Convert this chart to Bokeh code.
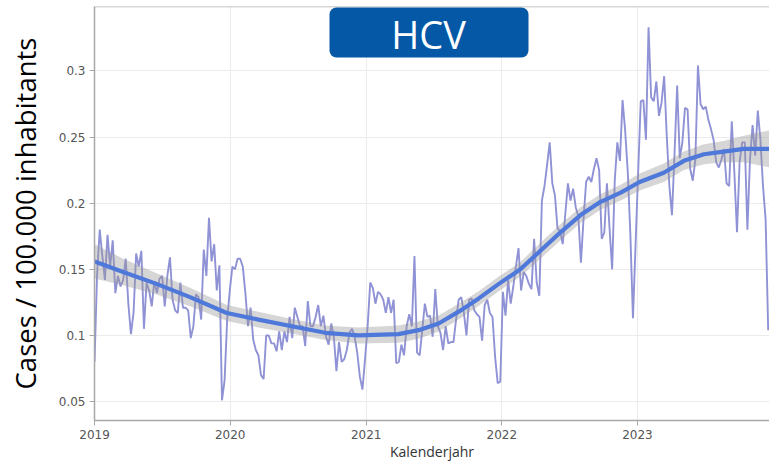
import pandas as pd
from bokeh.plotting import figure
from bokeh.models import (FixedTicker, CustomJSTickFormatter, Range1d, BoxAnnotation,
                          Label, Span)
from bokeh.embed import file_html
from bokeh.resources import INLINE

# ---------------- data ----------------
first_week = "2019-01-01"
cases = [
    # 2019
    0.080, 0.147, 0.180, 0.160, 0.142, 0.176, 0.152, 0.172, 0.132, 0.145,
    0.137, 0.142, 0.158, 0.124, 0.101, 0.117, 0.162, 0.152, 0.164, 0.105,
    0.140, 0.134, 0.122, 0.141, 0.132, 0.143, 0.145, 0.122, 0.145, 0.159,
    0.127, 0.119, 0.117, 0.140, 0.121, 0.121, 0.119, 0.098, 0.107, 0.131,
    0.129, 0.112, 0.165, 0.145, 0.189, 0.156, 0.169, 0.134, 0.153, 0.051,
    # 2020
    0.066, 0.112, 0.134, 0.152, 0.150, 0.158, 0.158, 0.152, 0.132, 0.107,
    0.121, 0.097, 0.089, 0.085, 0.070, 0.067, 0.100, 0.100, 0.094, 0.094,
    0.088, 0.103, 0.089, 0.103, 0.095, 0.114, 0.098, 0.121, 0.114, 0.107,
    0.107, 0.092, 0.126, 0.107, 0.107, 0.114, 0.123, 0.107, 0.115, 0.099,
    0.093, 0.109, 0.099, 0.073, 0.095, 0.080, 0.082, 0.089, 0.102, 0.105,
    0.099, 0.087, 0.069, 0.059,
    # 2021
    0.082, 0.107, 0.140, 0.136, 0.124, 0.133, 0.131, 0.127, 0.117, 0.129,
    0.117, 0.127, 0.079, 0.080, 0.093, 0.085, 0.107, 0.116, 0.107, 0.160,
    0.087, 0.085, 0.104, 0.124, 0.114, 0.115, 0.099, 0.135, 0.107, 0.102,
    0.089, 0.107, 0.094, 0.095, 0.095, 0.112, 0.127, 0.129, 0.117, 0.100,
    0.127, 0.128, 0.119, 0.116, 0.114, 0.096, 0.123, 0.127, 0.117, 0.114,
    0.084, 0.064, 0.065,
    # 2022
    0.133, 0.115, 0.142, 0.124, 0.137, 0.152, 0.166, 0.134, 0.148, 0.145,
    0.139, 0.135, 0.173, 0.140, 0.130, 0.202, 0.213, 0.229, 0.246, 0.215,
    0.206, 0.181, 0.179, 0.169, 0.192, 0.215, 0.202, 0.211, 0.197, 0.190,
    0.155, 0.188, 0.216, 0.220, 0.216, 0.226, 0.234, 0.225, 0.173, 0.178,
    0.215, 0.181, 0.150, 0.217, 0.246, 0.232, 0.278, 0.255, 0.224, 0.177,
    0.113, 0.168, 0.223,
    # 2023
    0.277, 0.278, 0.248, 0.333, 0.280, 0.277, 0.292, 0.266, 0.276, 0.296,
    0.251, 0.213, 0.191, 0.238, 0.289, 0.234, 0.246, 0.272, 0.271, 0.226,
    0.217, 0.233, 0.304, 0.275, 0.271, 0.273, 0.263, 0.256, 0.248, 0.231,
    0.227, 0.233, 0.241, 0.215, 0.213, 0.262, 0.223, 0.178, 0.231, 0.246,
    0.246, 0.180, 0.233, 0.259, 0.236, 0.270, 0.248, 0.213, 0.188, 0.104,
]

smooth_dates = [
    "2019-01-01", "2019-03-19", "2019-06-17", "2019-09-15", "2019-12-23",
    "2020-03-17", "2020-06-15", "2020-09-13", "2020-12-11", "2021-03-29",
    "2021-05-22", "2021-07-15", "2021-09-07", "2021-10-31", "2021-12-24",
    "2022-02-20", "2022-04-15", "2022-06-08", "2022-08-01", "2022-09-24",
    "2022-11-17", "2023-01-07", "2023-03-13", "2023-05-06", "2023-06-29",
    "2023-08-21", "2023-10-14", "2023-12-23",
]
smooth_fit = [
    0.156, 0.148, 0.139, 0.129, 0.117,
    0.112, 0.107, 0.102, 0.100, 0.101,
    0.104, 0.109, 0.118, 0.128, 0.139,
    0.150, 0.164, 0.178, 0.191, 0.201,
    0.208, 0.216, 0.223, 0.232, 0.237,
    0.239, 0.241, 0.241,
]
smooth_se = [
    0.013, 0.010, 0.008, 0.007, 0.006,
    0.006, 0.0055, 0.0055, 0.006, 0.0065,
    0.0065, 0.006, 0.006, 0.0055, 0.0055,
    0.0055, 0.006, 0.006, 0.006, 0.006,
    0.006, 0.0065, 0.007, 0.007, 0.0075,
    0.008, 0.010, 0.014,
]

y_ticks = [0.05, 0.1, 0.15, 0.2, 0.25, 0.3]
year_ticks = ["2019-01-01", "2020-01-01", "2021-01-01", "2022-01-01", "2023-01-01"]
year_labels = ["2019", "2020", "2021", "2022", "2023"]

title_text = "HCV"
x_title = "Kalenderjahr"
y_title = "Cases / 100.000 inhabitants"

# ---------------- build ----------------
weeks = pd.date_range(first_week, periods=len(cases), freq="7D")
sdates = pd.to_datetime(smooth_dates)
lower = [f - s for f, s in zip(smooth_fit, smooth_se)]
upper = [f + s for f, s in zip(smooth_fit, smooth_se)]

def ms(d):
    return int(pd.Timestamp(d).value // 10**6)

y_lo, y_hi = 0.0357, 0.3487
p = figure(width=769, height=463, x_axis_type="datetime",
           output_backend="svg", toolbar_location=None,
           x_range=Range1d(pd.Timestamp("2018-12-31 22:00"), pd.Timestamp("2023-12-22 12:00")),
           y_range=Range1d(y_lo, y_hi),
           min_border_left=94, min_border_right=0, min_border_top=6, min_border_bottom=42)

p.background_fill_color = "white"
p.border_fill_color = "white"
p.outline_line_color = None

p.line(weeks, cases, line_color="#9092D6", line_width=1.9)
p.varea(x=sdates, y1=lower, y2=upper, fill_color="#999999", fill_alpha=0.4)
p.line(sdates, smooth_fit, line_color="#4E78DA", line_width=4.2)

# axes
xt = [ms(d) for d in year_ticks]
p.xaxis.ticker = FixedTicker(ticks=xt)
p.xaxis.major_label_overrides = {t: l for t, l in zip(xt, year_labels)}
p.yaxis.ticker = FixedTicker(ticks=y_ticks)
p.yaxis.formatter = CustomJSTickFormatter(code="return String(Math.round(tick*100)/100);")
p.xgrid.ticker = FixedTicker(ticks=xt)
p.ygrid.ticker = FixedTicker(ticks=y_ticks)
p.grid.grid_line_color = "#EBEBEB"
p.grid.grid_line_width = 1

for ax in (p.xaxis, p.yaxis):
    ax.axis_line_color = "#A8A8A8"
    ax.axis_line_width = 1.5
    ax.major_tick_line_color = "#A8A8A8"
    ax.major_tick_out = 5
    ax.major_tick_in = 0
    ax.minor_tick_line_color = None
    ax.major_label_text_font = "DejaVu Sans"
    ax.major_label_text_font_size = "12px"
    ax.major_label_text_color = "#555555"
    ax.major_label_standoff = 4
p.xaxis.major_label_standoff = 4

p.yaxis.axis_label = y_title
p.yaxis.axis_label_text_font = "Open Sans"
p.yaxis.axis_label_text_font_size = "27.5px"
p.yaxis.axis_label_text_font_style = "normal"
p.yaxis.axis_label_text_color = "black"
p.yaxis.axis_label_standoff = 12

p.xaxis.axis_label = x_title
p.xaxis.axis_label_text_font = "Open Sans"
p.xaxis.axis_label_text_font_size = "14px"
p.xaxis.axis_label_text_font_style = "normal"
p.xaxis.axis_label_text_color = "#333333"
p.xaxis.axis_label_standoff = 0

p.add_layout(Span(location=y_hi, dimension="width", line_color="#B0B0B0", line_width=1.5))

# title badge (frame-relative screen units)
p.add_layout(BoxAnnotation(left=235, right=434, top=413, bottom=363,
                           left_units="screen", right_units="screen",
                           top_units="screen", bottom_units="screen",
                           fill_color="#0558A6", fill_alpha=1.0, line_color=None,
                           border_radius=7))
p.add_layout(Label(x=334, y=387, x_units="screen", y_units="screen", text=title_text,
                   text_font="Open Sans", text_font_size="38px", text_color="white",
                   text_align="center", text_baseline="middle"))

open("out.html", "w").write(file_html(p, INLINE))
